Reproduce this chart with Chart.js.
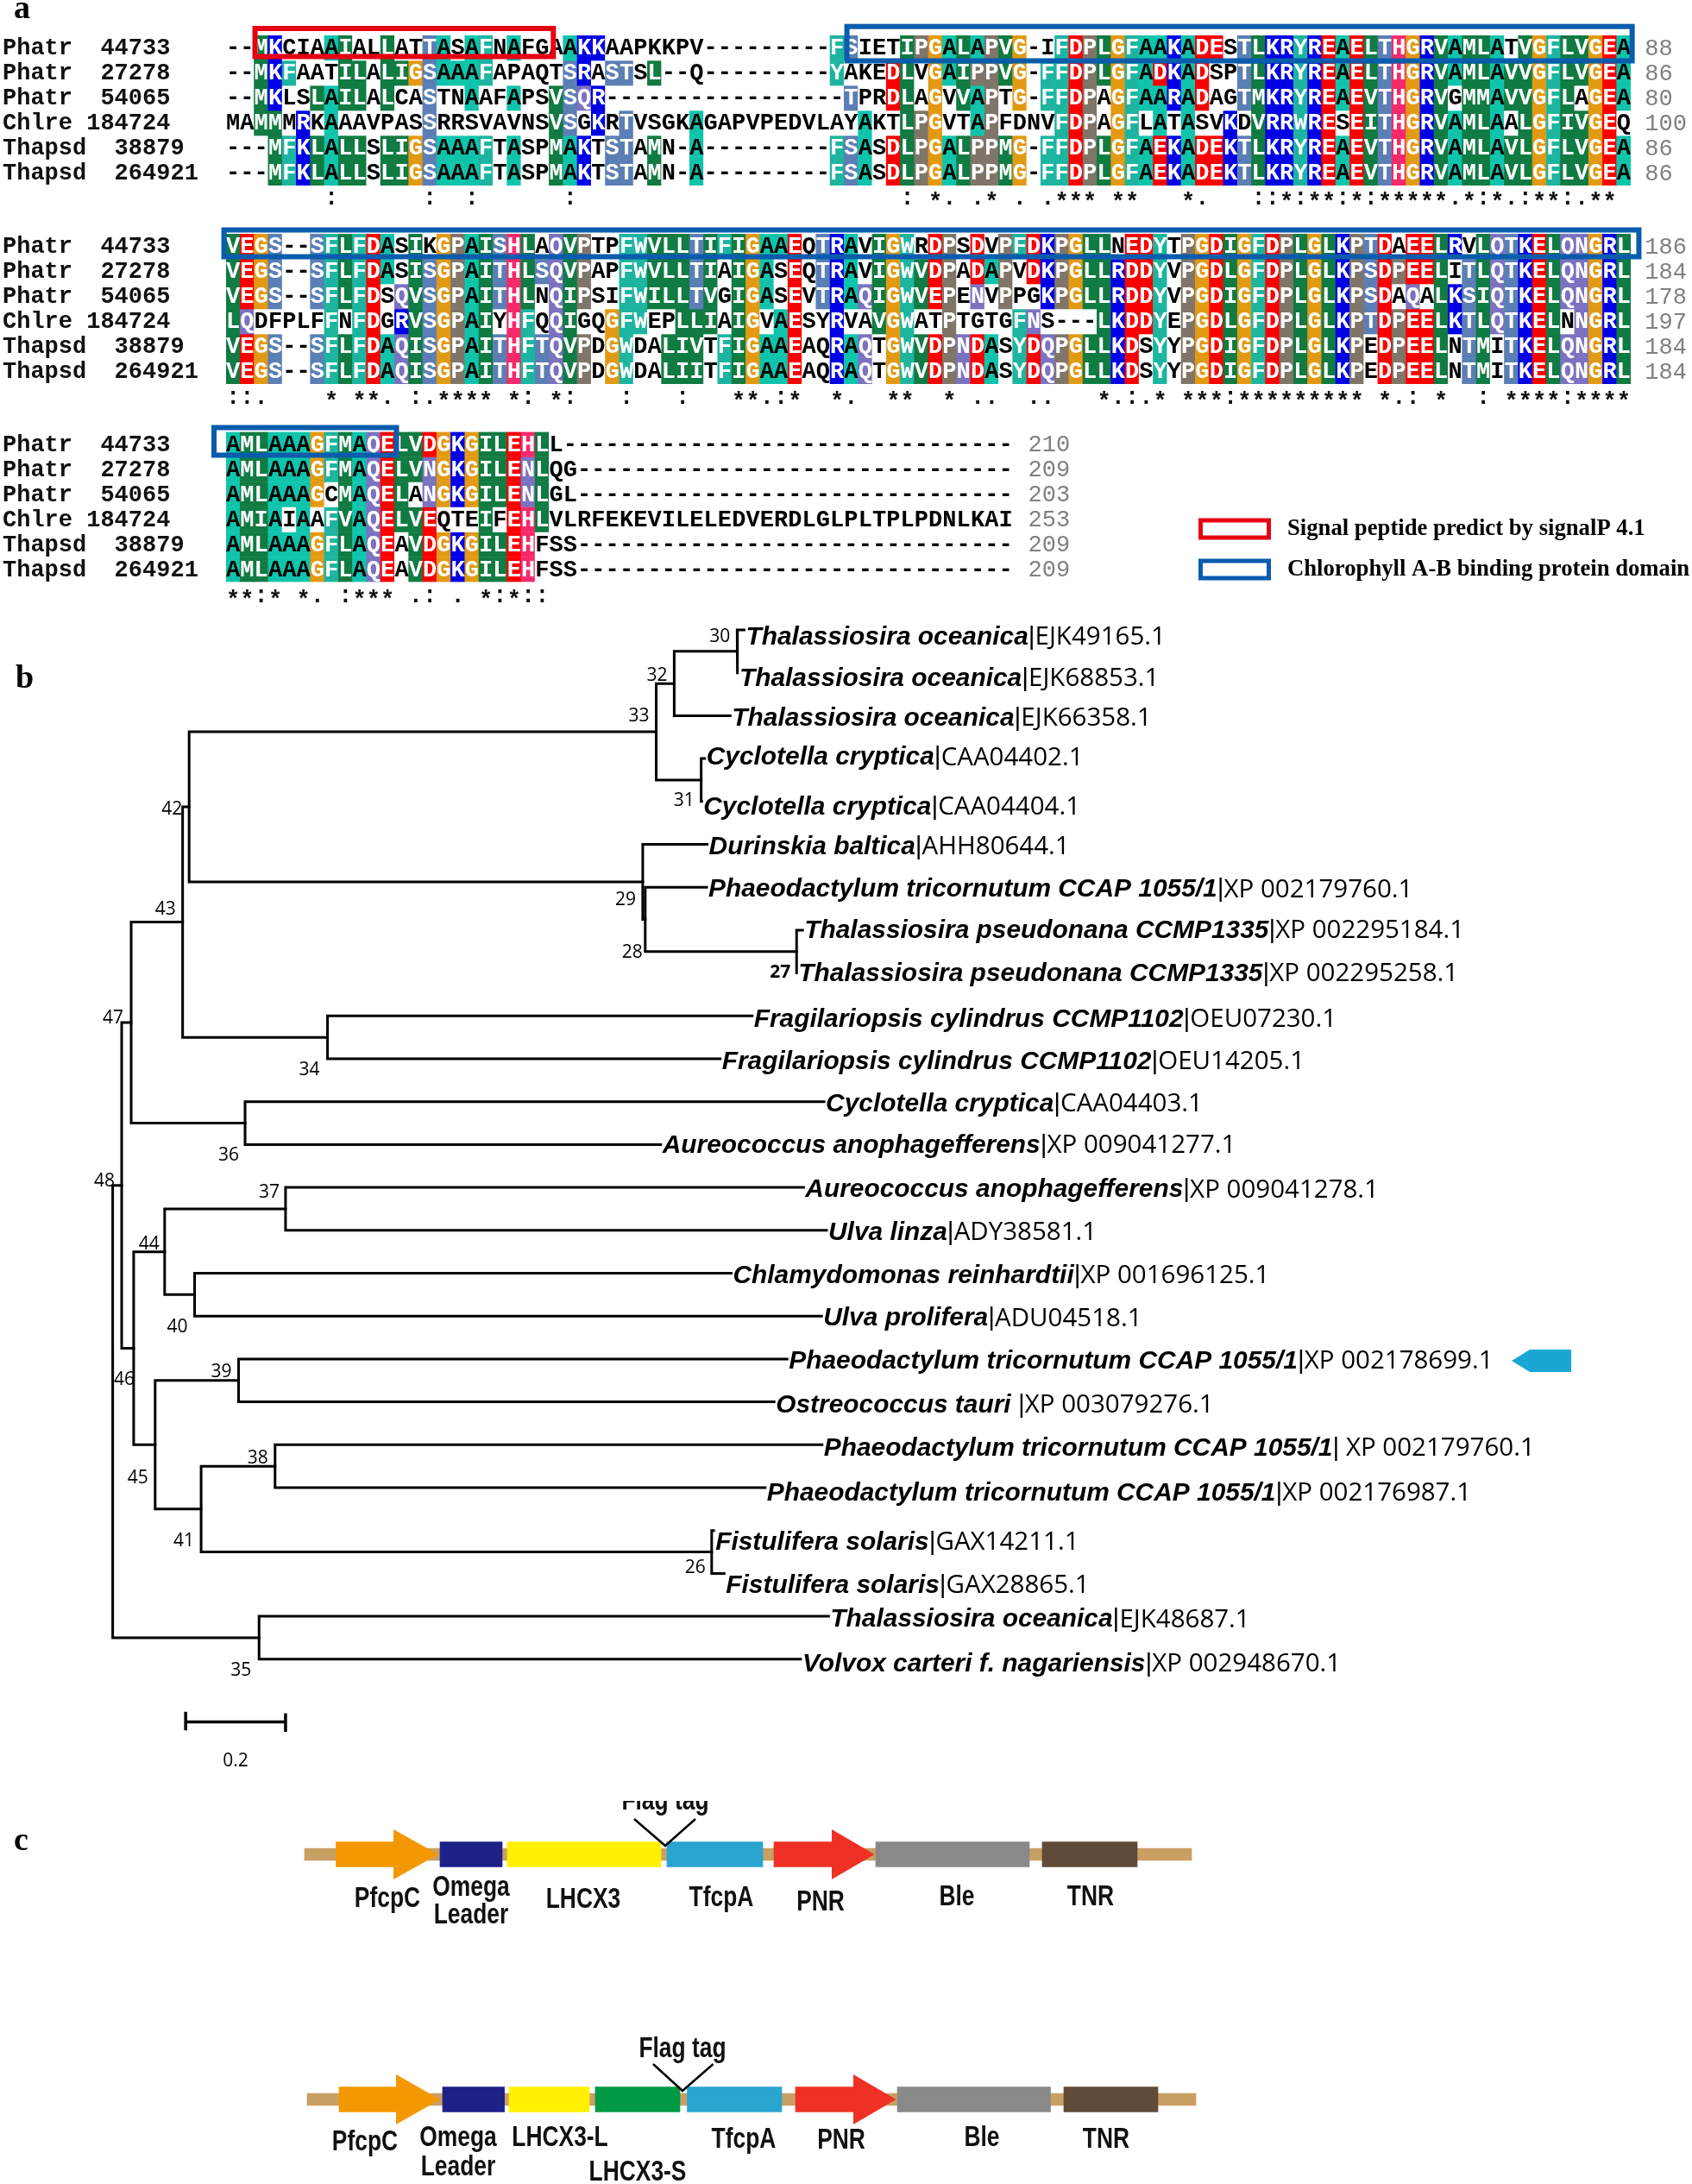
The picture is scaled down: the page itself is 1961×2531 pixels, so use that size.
<!DOCTYPE html>
<html lang="en">
<head>
<meta charset="UTF-8">
<title>LHCX3 alignment, phylogeny and constructs</title>
<script src="https://cdn.jsdelivr.net/npm/chart.js"></script>
<style>
    html, body { margin: 0; padding: 0; background: #fff; }
    #page { position: relative; width: 1961px; height: 2531px; overflow: hidden; }
    canvas { position: absolute; left: 0; }
</style>
</head>
<body>
<div id="page">
    <canvas id="blockA" width="1961" height="250" style="top:0"></canvas>
    <canvas id="blockB" width="1961" height="230" style="top:250px"></canvas>
    <canvas id="blockC" width="1961" height="230" style="top:480px"></canvas>
    <canvas id="tree" width="1961" height="1360" style="top:700px"></canvas>
    <canvas id="constructs" width="1961" height="471" style="top:2060px"></canvas>
</div>
<script>
// ---- panel a: alignment ----
const seqNames = ['Phatr  44733', 'Phatr  27278', 'Phatr  54065', 'Chlre 184724', 'Thapsd  38879', 'Thapsd  264921'];
const seqA = [
    '--MKCIAAIALLATTASAFNAFGAAKKAAPKKPV---------FSIETIPGALAPVG-IFDPLGFAAKADESTLKRYREAELTHGRVAMLATVGFLVGEA',
    '--MKFAATILALIGSAAAFAPAQTSRASTSL--Q---------YAKEDLVGAIPPVG-FFDPLGFADKADSPTLKRYREAELTHGRVAMLAVVGFLVGEA',
    '--MKLSLAILALCASTNAAFAPSVSQR-----------------TPRDLAGVVAPTG-FFDPAGFAARADAGTMKRYREAEVTHGRVGMMAVVGFLAGEA',
    'MAMMMRKAAAVPASSRRSVAVNSVSGKRTVSGKAGAPVPEDVLAYAKTLPGVTAPFDNVFDPAGFLATASVKDVRRWRESEITHGRVAMLAALGFIVGEQ',
    '---MFKLALLSLIGSAAAFTASPMAKTSTAMN-A---------FSASDLPGALPPMG-FFDPLGFAEKADEKTLKRYREAEVTHGRVAMLAVLGFLVGEA',
    '---MFKLALLSLIGSAAAFTASPMAKTSTAMN-A---------FSASDLPGALPPMG-FFDPLGFAEKADEKTLKRYREAEVTHGRVAMLAVLGFLVGEA'
];
const seqB = [
    'VEGS--SFLFDASIKGPAISHLAQVPTPFWVLLTIFIGAAEQTRAVIGWRDPSDVPFDKPGLLNEDYTPGDIGFDPLGLKPTDAEELRVLQTKELQNGRL',
    'VEGS--SFLFDASISGPAITHLSQVPAPFWVLLTIAIGASEQTRAVIGWVDPADAPVDKPGLLRDDYVPGDLGFDPLGLKPSDPEELITLQTKELQNGRL',
    'VEGS--SFLFDSQVSGPAITHLNQIPSIFWILLTVGIGASEVTRAQIGWVEPENVPPGKPGLLRDDYVPGDIGFDPLGLKPSDAQALKSIQTKELQNGRL',
    'LQDFPLFFNFDGRVSGPAIYHFQQIGQGFWEPLLIAIGVAESYRVAVGWATPTGTGFNS---LKDDYEPGDLGFDPLGLKPTDPEELKTLQTKELNNGRL',
    'VEGS--SFLFDAQISGPAITHFTQVPDGWDALIVTFIGAAEAQRAQTGWVDPNDASYDQPGLLKDSYYPGDIGFDPLGLKPEDPEELNTMITKELQNGRL',
    'VEGS--SFLFDAQISGPAITHFTQVPDGWDALIITFIGAAEAQRAQTGWVDPNDASYDQPGLLKDSYYPGDIGFDPLGLKPEDPEELNTMITKELQNGRL'
];
const seqC = [
    'AMLAAAGFMAQELVDGKGILEHLL--------------------------------',
    'AMLAAAGFMAQELVNGKGILENLQG-------------------------------',
    'AMLAAAGCMAQELANGKGILENLGL-------------------------------',
    'AMIAIAAFVAQELVEQTEIFEHLVLRFEKEVILELEDVERDLGLPLTPLPDNLKAI',
    'AMLAAAGFLAQEAVDGKGILEHFSS-------------------------------',
    'AMLAAAGFLAQEAVDGKGILEHFSS-------------------------------'
];
const endA = [88, 86, 80, 100, 86, 86];
const endB = [186, 184, 178, 197, 184, 184];
const endC = [210, 209, 203, 253, 209, 209];
// conservation marks as [column, marks]
const consA = [[7, ':'], [14, ':'], [17, ':'], [24, ':'], [48, ':'], [50, '*.'], [53, '.*'], [56, '.'], [58, '.***'], [63, '**'], [68, '*.'], [73, '::*:**:*:*****.*:*.:**:.**']];
const consB = [[0, '::.'], [7, '*'], [9, '**.'], [13, ':.****'], [20, '*:'], [23, '*:'], [28, ':'], [32, ':'], [36, '**.:*'], [43, '*.'], [47, '**'], [51, '*'], [53, '..'], [57, '..'], [62, '*.:.*'], [68, '***:*********'], [82, '*.:'], [86, '*'], [89, ':'], [91, '****:****']];
const consC = [[0, '**:*'], [5, '*.'], [8, ':***'], [13, '.:'], [16, '.'], [18, '*:*::']];

// residue -> residues that count for it, colour
const residueRules = {
    A: ['A', '#10c4ac'], I: ['ILVM', '#107b42'], L: ['ILVM', '#107b42'], V: ['ILVM', '#107b42'], M: ['ILVM', '#107b42'],
    F: ['FYW', '#1db5a0'], Y: ['FYW', '#1db5a0'], W: ['FYW', '#1db5a0'], G: ['G', '#e29a14'], P: ['P', '#7f7568'],
    S: ['ST', '#5b7fb5'], T: ['ST', '#5b7fb5'], Q: ['QEKR', '#7b72c0'], N: ['NDEH', '#7b72c0'],
    D: ['DEN', '#fa0000'], E: ['DEQ', '#fa0000'], K: ['KRQ', '#0000e6'], R: ['KRQ', '#0000e6'], H: ['H', '#f52a6a']
};

function cellColor(seqs, col, ch) {
    const rule = residueRules[ch];
    if (!rule) return '#ffffff';
    let n = 0;
    seqs.forEach(s => { if (rule[0].includes(s[col])) n++; });
    return n >= 3 ? rule[1] : '#ffffff';
}

function alignmentChart(id, seqs, ends, cons, pad, opts) {
    const nCol = seqs[0].length;
    const labels = Array.from({ length: nCol }, (_, i) => i + 1);
    const datasets = seqs.map((s, r) => ({
        label: seqNames[r],
        data: labels.map(() => [r, r + 1]),
        backgroundColor: labels.map((_, c) => cellColor(seqs, c, s[c])),
        borderWidth: 0,
        grouped: false,
        barPercentage: 1,
        categoryPercentage: 1
    }));
    return new Chart(document.getElementById(id), {
        type: 'bar',
        data: { labels, datasets },
        options: {
            responsive: false,
            animation: false,
            events: [],
            layout: { padding: pad },
            plugins: { legend: { display: false }, tooltip: { enabled: false } },
            scales: {
                x: { display: false, offset: true },
                y: { display: false, type: 'linear', min: 0, max: 6, reverse: true }
            }
        },
        plugins: [{
            id: 'residues',
            afterDatasetsDraw(chart) {
                const { ctx, scales: { x, y } } = chart;
                ctx.save();
                ctx.textAlign = 'center';
                ctx.textBaseline = 'middle';
                ctx.font = 'bold 27px "Liberation Mono"';
                seqs.forEach((s, r) => {
                    for (let c = 0; c < s.length; c++) {
                        const bg = cellColor(seqs, c, s[c]);
                        ctx.fillStyle = (bg === '#ffffff' || s[c] === 'A') ? '#000' : '#fff';
                        ctx.fillText(s[c], x.getPixelForValue(c), y.getPixelForValue(r + 0.5) + 1);
                    }
                });
                // names and end numbers
                ctx.textAlign = 'left';
                ctx.fillStyle = '#111';
                seqNames.forEach((n, r) => ctx.fillText(n, 3, y.getPixelForValue(r + 0.5) + 1));
                ctx.font = '27px "Liberation Mono"';
                ctx.fillStyle = '#808080';
                ends.forEach((n, r) => ctx.fillText(String(n), x.getPixelForValue(opts.endCol), y.getPixelForValue(r + 0.5) + 1));
                // conservation line
                ctx.textAlign = 'center';
                ctx.fillStyle = '#111';
                ctx.font = 'bold 27px "Liberation Mono"';
                cons.forEach(([start, marks]) => {
                    [...marks].forEach((m, i) => ctx.fillText(m, x.getPixelForValue(start + i), y.getPixelForValue(opts.consRow) + (m === '*' ? 5 : 0)));
                });
                // domain boxes
                opts.boxes.forEach(b => {
                    ctx.lineWidth = 6;
                    ctx.strokeStyle = b.color;
                    const x0 = x.getPixelForValue(b.c0), x1 = x.getPixelForValue(b.c1);
                    const y0 = y.getPixelForValue(b.r0), y1 = y.getPixelForValue(b.r1);
                    ctx.strokeRect(x0, y0, x1 - x0, y1 - y0);
                });
                if (opts.extra) opts.extra(ctx);
                ctx.restore();
            }
        }]
    });
}

const signalRed = '#e60012';
const domainBlue = '#0a5cad';

alignmentChart('blockA', seqA, endA, consA, { left: 262, right: 71, top: 41, bottom: 35 }, {
    endCol: 100.5,
    consRow: 6.52,
    boxes: [
        { color: signalRed, c0: 1.56, c1: 22.8, r0: -0.276, r1: 0.845 },
        { color: domainBlue, c0: 43.7, c1: 99.6, r0: -0.355, r1: 1.017 }
    ],
    extra(ctx) {
        ctx.font = 'bold 38px "Liberation Serif"';
        ctx.fillStyle = '#000';
        ctx.textAlign = 'left';
        ctx.textBaseline = 'alphabetic';
        ctx.fillText('a', 16, 21);
    }
});
alignmentChart('blockB', seqB, endB, consB, { left: 262, right: 71, top: 21, bottom: 35 }, {
    endCol: 100.5,
    consRow: 6.55,
    boxes: [{ color: domainBlue, c0: -0.65, c1: 100.08, r0: -0.155, r1: 0.914 }]
});
alignmentChart('blockC', seqC, endC, consC, { left: 262, right: 787.3, top: 20.5, bottom: 35.5 }, {
    endCol: 56.6,
    consRow: 6.59,
    boxes: [{ color: domainBlue, c0: -1.36, c1: 11.63, r0: -0.172, r1: 0.931 }],
    extra(ctx) {
        // legend
        ctx.lineWidth = 5;
        ctx.strokeStyle = signalRed;
        ctx.strokeRect(1391.5, 123, 79, 20);
        ctx.strokeStyle = domainBlue;
        ctx.strokeRect(1391.5, 170, 79, 20);
        ctx.font = 'bold 26.7px "Liberation Serif"';
        ctx.fillStyle = '#000';
        ctx.textAlign = 'left';
        ctx.textBaseline = 'middle';
        ctx.fillText('Signal peptide predict by signalP 4.1', 1492, 133);
        ctx.fillText('Chlorophyll A-B binding protein domain', 1492, 180);
    }
});

// ---- panel b: tree ----
const leafSpecies = [
    'Thalassiosira oceanica', 'Thalassiosira oceanica', 'Thalassiosira oceanica', 'Cyclotella cryptica', 'Cyclotella cryptica',
    'Durinskia baltica', 'Phaeodactylum tricornutum CCAP 1055/1', 'Thalassiosira pseudonana CCMP1335', 'Thalassiosira pseudonana CCMP1335',
    'Fragilariopsis cylindrus CCMP1102', 'Fragilariopsis cylindrus CCMP1102', 'Cyclotella cryptica', 'Aureococcus anophagefferens',
    'Aureococcus anophagefferens', 'Ulva linza', 'Chlamydomonas reinhardtii', 'Ulva prolifera', 'Phaeodactylum tricornutum CCAP 1055/1',
    'Ostreococcus tauri', 'Phaeodactylum tricornutum CCAP 1055/1', 'Phaeodactylum tricornutum CCAP 1055/1', 'Fistulifera solaris',
    'Fistulifera solaris', 'Thalassiosira oceanica', 'Volvox carteri f. nagariensis'
];
const leafAccession = [
    '|EJK49165.1', '|EJK68853.1', '|EJK66358.1', '|CAA04402.1', '|CAA04404.1',
    '|AHH80644.1', '|XP 002179760.1', '|XP 002295184.1', '|XP 002295258.1',
    '|OEU07230.1', '|OEU14205.1', '|CAA04403.1', '|XP 009041277.1',
    '|XP 009041278.1', '|ADY38581.1', '|XP 001696125.1', '|ADU04518.1', '|XP 002178699.1',
    ' |XP 003079276.1', '| XP 002179760.1', '|XP 002176987.1', '|GAX14211.1',
    '|GAX28865.1', '|EJK48687.1', '|XP 002948670.1'
];
const leafDist = [1.264, 1.251, 1.236, 1.185, 1.179, 1.190, 1.189, 1.381, 1.369, 1.280, 1.216, 1.424, 1.097, 1.383, 1.429, 1.238, 1.419, 1.350, 1.324, 1.420, 1.306, 1.203, 1.224, 1.433, 1.377];
// node id, distance from root, its two children ('tN' = leaf N)
const nodeIds = ['30', '32', '31', '33', '27', '28', '29', '42', '34', '43', '36', '47', '37', '40', '44', '39', '38', '26', '41', '45', '46', '48', '35', 'root'];
const nodeDist = [1.250, 1.124, 1.178, 1.088, 1.369, 1.066, 1.061, 0.153, 0.430, 0.140, 0.265, 0.037, 0.346, 0.164, 0.104, 0.252, 0.325, 1.199, 0.177, 0.085, 0.042, 0.018, 0.293, 0];
const nodeKidA = ['t0', '30', 't3', '32', 't7', 't6', 't5', '33', 't9', '42', 't11', '43', 't13', 't15', '37', 't17', 't19', 't21', '38', '39', '44', '47', 't23', '48'];
const nodeKidB = ['t1', 't2', 't4', '31', 't8', '27', '28', '29', 't10', '34', 't12', '36', 't14', 't16', '40', 't18', 't20', 't22', '26', '41', '45', '46', 't24', '35'];
const scaleBarFrom = 0.146, scaleBarLength = 0.2, scaleBarRow = 25.46;

// label nudges, px
const leafLabelDy = [9, 7, 3, -1, 7, 3, 3, 1, 1, 4, 4, 3, 1, 3, 3, 3, 3, 3, 4, 4, 7, 14, 14, 4, 6];
const nodeLabelOffset = {
    30: [-20, -17], 32: [-20, -9], 33: [-20, -18], 31: [-20, 24], 29: [-20, 21], 28: [-15, 39], 27: [-19, 24],
    42: [-20, 3], 43: [-20, -15], 47: [-21, -5], 34: [-21, 38], 36: [-19, 37], 48: [-20, -5], 37: [-19, -19],
    44: [-18, -9], 40: [-20, 38], 46: [-11, 37], 39: [-20, -10], 38: [-20, -9], 45: [-20, 39], 41: [-20, 37],
    26: [-19, 18], 35: [-21, 38]
};

const nodeRow = {};
function kidDist(k) { return k[0] === 't' ? leafDist[+k.slice(1)] : nodeDist[nodeIds.indexOf(k)]; }
function kidRow(k) { return k[0] === 't' ? +k.slice(1) : nodeRow[k]; }
nodeIds.forEach((id, i) => { nodeRow[id] = (kidRow(nodeKidA[i]) + kidRow(nodeKidB[i])) / 2; });

const treeLine = { showLine: true, pointRadius: 0, borderColor: '#000', borderWidth: 3, borderCapStyle: 'square', borderJoinStyle: 'miter', tension: 0, clip: false };
const treeDatasets = nodeIds.map((id, i) => {
    const a = nodeKidA[i], b = nodeKidB[i], d = nodeDist[i];
    return Object.assign({
        label: 'node ' + id,
        data: [{ x: kidDist(a), y: kidRow(a) }, { x: d, y: kidRow(a) }, { x: d, y: kidRow(b) }, { x: kidDist(b), y: kidRow(b) }]
    }, treeLine);
});
treeDatasets.push(Object.assign({}, treeLine, {
    label: 'scale bar',
    borderWidth: 3.5,
    data: [
        { x: scaleBarFrom, y: scaleBarRow - 0.2 }, { x: scaleBarFrom, y: scaleBarRow + 0.2 }, { x: scaleBarFrom, y: scaleBarRow },
        { x: scaleBarFrom + scaleBarLength, y: scaleBarRow }, { x: scaleBarFrom + scaleBarLength, y: scaleBarRow - 0.2 }, { x: scaleBarFrom + scaleBarLength, y: scaleBarRow + 0.2 }
    ]
}));

new Chart(document.getElementById('tree'), {
    type: 'scatter',
    data: { datasets: treeDatasets },
    options: {
        responsive: false,
        animation: false,
        events: [],
        plugins: { legend: { display: false }, tooltip: { enabled: false } },
        scales: {
            x: { display: false, type: 'linear', min: -0.22556, max: 3.16131 },
            y: { display: false, type: 'linear', min: -0.6036, max: 26.76, reverse: true }
        }
    },
    plugins: [{
        id: 'treeText',
        afterDatasetsDraw(chart) {
            const { ctx, scales: { x, y } } = chart;
            ctx.save();
            ctx.textBaseline = 'middle';
            ctx.fillStyle = '#000';
            leafSpecies.forEach((name, i) => {
                const px = x.getPixelForValue(leafDist[i]) + 2;
                const py = y.getPixelForValue(i) + leafLabelDy[i];
                ctx.textAlign = 'left';
                ctx.font = 'italic bold 29.9px "Liberation Sans"';
                ctx.fillText(name, px, py);
                let cx = px + ctx.measureText(name).width;
                // the bar is narrow in the figure, the accession a humanist face
                const [before, after] = leafAccession[i].split('|');
                ctx.font = '30px "Liberation Sans"';
                ctx.fillText(before + '|', cx, py);
                cx += ctx.measureText(before + '|').width;
                ctx.font = '29.5px "Open Sans"';
                ctx.fillText(after, cx, py);
            });
            ctx.textAlign = 'center';
            nodeIds.forEach((id, i) => {
                const off = nodeLabelOffset[id];
                if (!off) return;
                ctx.font = (id === '27' ? 'bold ' : '') + '21px "Open Sans"';
                ctx.fillText(id, x.getPixelForValue(nodeDist[i]) + off[0], y.getPixelForValue(nodeRow[id]) + off[1]);
            });
            ctx.font = '21px "Open Sans"';
            ctx.fillText('0.2', x.getPixelForValue(scaleBarFrom + scaleBarLength / 2), y.getPixelForValue(scaleBarRow) + 46);
            ctx.textAlign = 'left';
            ctx.textBaseline = 'alphabetic';
            ctx.font = 'bold 38px "Liberation Serif"';
            ctx.fillText('b', 18, 97);
            // marker beside the LHCX3 leaf
            const ay = y.getPixelForValue(17) + 2;
            ctx.fillStyle = '#1aa7d4';
            ctx.beginPath();
            ctx.moveTo(1752, ay);
            ctx.lineTo(1773, ay - 13);
            ctx.lineTo(1821, ay - 13);
            ctx.lineTo(1821, ay + 13);
            ctx.lineTo(1773, ay + 13);
            ctx.closePath();
            ctx.fill();
            ctx.restore();
        }
    }]
});

// ---- panel c: constructs ----
const constructNames = ['LHCX3', 'LHCX3-L/S'];
const elementNames = ['Backbone', 'PfcpC', 'Omega Leader', 'LHCX3', 'LHCX3-S', 'TfcpA', 'PNR', 'Ble', 'TNR'];
const elementColors = ['#c9a063', '#f39800', '#1d2087', '#fff100', '#009944', '#29a5cf', '#ee3124', '#898989', '#5f4b37'];
const topStart = [353, 389.5, 510, 588, null, 773, 897, 1015, 1208];
const topEnd = [1381, 456, 582, 766, null, 884, 964, 1193, 1318];
const bottomStart = [356, 393, 513, 590, 690, 796.5, 922, 1040, 1233];
const bottomEnd = [1386, 459, 584.6, 683, 788, 906, 989, 1217.5, 1342];
const arrowTipTop = { PfcpC: 508, PNR: 1013.6 };
const arrowTipBottom = { PfcpC: 510, PNR: 1038.5 };
const flagTop = [735, 771, 806];
const flagBottom = [757, 791, 826.6];
const topLabels = ['PfcpC', 'Omega', 'Leader', 'LHCX3', 'TfcpA', 'PNR', 'Ble', 'TNR'];
const bottomLabels = ['PfcpC', 'Omega', 'Leader', 'LHCX3-L', 'LHCX3-S', 'TfcpA', 'PNR', 'Ble', 'TNR'];

// label placement, px
const topLabelX = [449, 546, 546, 676, 836, 951, 1109, 1264];
const topLabelDy = [51.5, 38.5, 71, 53, 51, 56, 50, 50];
const bottomLabelX = [423, 531, 531, 649, 739, 862, 975, 1138, 1282];
const bottomLabelDy = [50, 45, 79, 45, 85, 47, 48, 45, 47];

// the labels are set tall and narrow in the figure
function tallText(ctx, text, x, y) {
    ctx.save();
    ctx.translate(x, y);
    ctx.scale(0.88, 1.12);
    ctx.fillText(text, 0, 0);
    ctx.restore();
}

new Chart(document.getElementById('constructs'), {
    type: 'bar',
    data: {
        labels: constructNames,
        datasets: elementNames.map((name, i) => ({
            label: name,
            data: [
                topStart[i] === null ? null : [topStart[i], topEnd[i]],
                [bottomStart[i], bottomEnd[i]]
            ],
            backgroundColor: elementColors[i],
            borderWidth: 0,
            grouped: false,
            barThickness: i === 0 ? 14 : 29,
            order: i === 0 ? 10 : 1,
            clip: false
        }))
    },
    options: {
        indexAxis: 'y',
        responsive: false,
        animation: false,
        events: [],
        layout: { padding: { top: 89, bottom: 98 } },
        plugins: { legend: { display: false }, tooltip: { enabled: false } },
        scales: {
            x: { display: false, type: 'linear', min: 0, max: 1961 },
            y: { display: false, type: 'category', offset: false }
        }
    },
    plugins: [{
        id: 'constructText',
        afterDatasetsDraw(chart) {
            const { ctx, scales: { x, y } } = chart;
            ctx.save();
            // arrow heads
            [[arrowTipTop, topEnd, 0], [arrowTipBottom, bottomEnd, 1]].forEach(([tips, ends, row]) => {
                const cy = y.getPixelForValue(row);
                Object.keys(tips).forEach(name => {
                    const i = elementNames.indexOf(name);
                    ctx.fillStyle = elementColors[i];
                    ctx.beginPath();
                    ctx.moveTo(x.getPixelForValue(ends[i]), cy - 29);
                    ctx.lineTo(x.getPixelForValue(tips[name]), cy);
                    ctx.lineTo(x.getPixelForValue(ends[i]), cy + 29);
                    ctx.closePath();
                    ctx.fill();
                });
            });
            // flag tag marks
            ctx.strokeStyle = '#000';
            ctx.lineWidth = 2.5;
            [[flagTop, 0], [flagBottom, 1]].forEach(([f, row]) => {
                const cy = y.getPixelForValue(row);
                ctx.beginPath();
                ctx.moveTo(x.getPixelForValue(f[0]), cy - 41);
                ctx.lineTo(x.getPixelForValue(f[1]), cy - 10);
                ctx.lineTo(x.getPixelForValue(f[2]), cy - 41);
                ctx.stroke();
            });
            ctx.fillStyle = '#111';
            ctx.textAlign = 'center';
            ctx.textBaseline = 'middle';
            ctx.font = 'bold 30px "Liberation Sans"';
            topLabels.forEach((t, i) => tallText(ctx, t, x.getPixelForValue(topLabelX[i]), y.getPixelForValue(0) + topLabelDy[i]));
            bottomLabels.forEach((t, i) => tallText(ctx, t, x.getPixelForValue(bottomLabelX[i]), y.getPixelForValue(1) + bottomLabelDy[i]));
            tallText(ctx, 'Flag tag', x.getPixelForValue(flagBottom[1]), y.getPixelForValue(1) - 58);
            // the top label is cut off in the figure
            ctx.beginPath();
            ctx.rect(0, 27, chart.width, 60);
            ctx.clip();
            tallText(ctx, 'Flag tag', x.getPixelForValue(flagTop[1]), y.getPixelForValue(0) - 61);
            ctx.restore();
            ctx.save();
            ctx.fillStyle = '#000';
            ctx.font = 'bold 38px "Liberation Serif"';
            ctx.fillText('c', 16, 84);
            ctx.restore();
        }
    }]
});
</script>
</body>
</html>
